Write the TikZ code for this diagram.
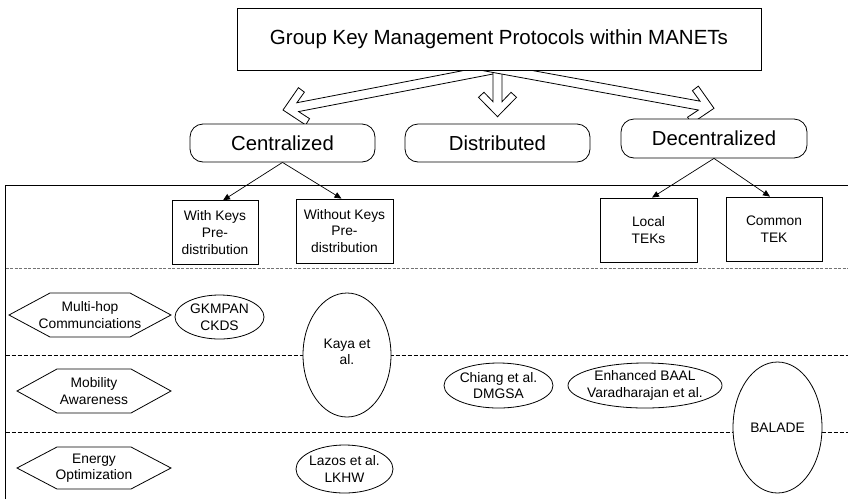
\documentclass[tikz,border=0pt]{standalone}
\usepackage{fontspec}
\setmainfont{Liberation Sans}
\usetikzlibrary{calc,arrows.meta,shapes.geometric}
\tikzset{
  big/.style={font=\fontsize{20.3}{24}\selectfont},
  small/.style={font=\fontsize{13.8}{16.6}\selectfont, align=center},
  rbox/.style={draw, rounded corners=13pt, line width=0.8pt, fill=white, minimum width=185pt, minimum height=38pt, big, inner sep=0pt},
  sbox/.style={draw, line width=0.8pt, inner sep=0pt, small},
  conn/.style={line width=0.7pt, -{Triangle[length=7pt,width=6pt]}},
  hollow/.style={draw, line width=0.8pt, fill=white, line join=miter},
  sep/.style={line width=0.7pt, dash pattern=on 4pt off 2pt},
  sepgray/.style={line width=0.9pt, draw=black!55, dash pattern=on 3pt off 1.5pt},
  frame/.style={line width=0.9pt},
  lbl/.style={small, inner sep=0pt},
  outl/.style={line width=0.8pt, fill=white}
}
\newcommand\hollowarrow[2]{%
  \draw[hollow] ($(#1)!4.5pt!90:(#2)$) -- ($(#2)!15pt!(#1)!4.5pt!90:(#2)$)
    -- ($(#2)!24.4pt!(#1)!13.5pt!90:(#2)$) -- ($(#2)!19.4pt!(#1)!19pt!90:(#2)$)
    -- (#2)
    -- ($(#2)!19.4pt!(#1)!19pt!-90:(#2)$) -- ($(#2)!24.4pt!(#1)!13.5pt!-90:(#2)$)
    -- ($(#2)!15pt!(#1)!4.5pt!-90:(#2)$) -- ($(#1)!4.5pt!-90:(#2)$);}
\newcommand\hexa[4]{% centre, half width, inset, half height
  \draw[outl] ($(#1)+(-#2,0)$) -- ($(#1)+(-#2+#3,-#4)$) -- ($(#1)+(#2-#3,-#4)$)
    -- ($(#1)+(#2,0)$) -- ($(#1)+(#2-#3,#4)$) -- ($(#1)+(-#2+#3,#4)$) -- cycle;}
\begin{document}
\begin{tikzpicture}[x=1pt,y=-1pt]
\useasboundingbox (0,0) rectangle (848,499);
% frame and separators
\draw[frame] (5.5,499) -- (5.5,185) -- (848,185);
\draw[sepgray] (5.5,268) -- (848,268);
\draw[sep] (5.5,355) -- (848,355);
\draw[sep] (5.5,432) -- (848,432);
% hollow arrows
\coordinate (sL) at (520,64.2);
\coordinate (tL) at (283,110);
\coordinate (sD) at (497.5,40);
\coordinate (tD) at (497.5,116.7);
\coordinate (sR) at (480,65.5);
\coordinate (tR) at (714,108.3);
\hollowarrow{sL}{tL}
\hollowarrow{sD}{tD}
\hollowarrow{sR}{tR}
% title
\node[draw, line width=0.8pt, fill=white, minimum width=524pt, minimum height=62pt, inner sep=0pt, font=\fontsize{20.5}{24}\selectfont] (title) at (499,39) {Group Key Management Protocols within MANETs};
% categories
\node[rbox] (cen) at (282.5,143) {Centralized};
\node[rbox] (dis) at (497.5,143) {Distributed};
\node[rbox, minimum width=186pt, minimum height=39pt] (dec) at (714,138.5) {Decentralized};
% sub boxes
\node[sbox, minimum width=86pt, minimum height=63.5pt] (wk) at (215,232.5) {With Keys\\Pre-\\distribution};
\node[sbox, minimum width=97pt, minimum height=64pt] (wok) at (344.5,231) {Without Keys\\Pre-\\distribution};
\node[sbox, minimum width=97pt, minimum height=64pt] (loc) at (648.5,230) {Local\\TEKs};
\node[sbox, minimum width=96pt, minimum height=64pt] (com) at (774,229) {Common\\TEK};
\draw[conn] (cen.south) -- ($(wk.north)+(8,0)$);
\draw[conn] (cen.south) -- ($(wok.north)+(-3,0)$);
\draw[conn] (dec.south) -- ($(loc.north)+(3.5,0)$);
\draw[conn] (dec.south) -- ($(com.north)+(-4,0)$);
% hexagons
\coordinate (hm) at (90,315);
\coordinate (hb) at (94,391);
\coordinate (he) at (94,468);
\hexa{hm}{81}{41}{22}
\hexa{hb}{77}{40}{22}
\hexa{he}{77}{40}{21}
\node[lbl] (mh) at (hm) {Multi-hop\\Communciations};
\node[lbl] (mob) at (hb) {Mobility\\Awareness};
\node[lbl] (en) at (he) {Energy\\Optimization};
% ellipses
\coordinate (cg) at (219.5,317);
\coordinate (ck) at (347,355);
\coordinate (cl) at (344.5,469);
\coordinate (cc) at (498.5,385.5);
\coordinate (ce) at (645,385.5);
\coordinate (cb) at (777.5,427.5);
\draw[outl] (cg) ellipse [x radius=44.5pt, y radius=22pt];
\draw[outl] (ck) ellipse [x radius=44pt, y radius=62pt];
\draw[outl] (cl) ellipse [x radius=48.5pt, y radius=24pt];
\draw[outl] (cc) ellipse [x radius=54.5pt, y radius=22.5pt];
\draw[outl] (ce) ellipse [x radius=77pt, y radius=22.5pt];
\draw[outl] (cb) ellipse [x radius=44.5pt, y radius=65.5pt];
\node[lbl] (gk) at (cg) {GKMPAN\\CKDS};
\node[lbl] (ky) at ($(ck)+(0,-3)$) {Kaya et\\al.};
\node[lbl] (lz) at (cl) {Lazos et al.\\LKHW};
\node[lbl] (ch) at (cc) {Chiang et al.\\DMGSA};
\node[lbl] (eb) at (ce) {Enhanced BAAL\\Varadharajan et al.};
\node[lbl] (bl) at (cb) {BALADE};
\end{tikzpicture}
\end{document}
